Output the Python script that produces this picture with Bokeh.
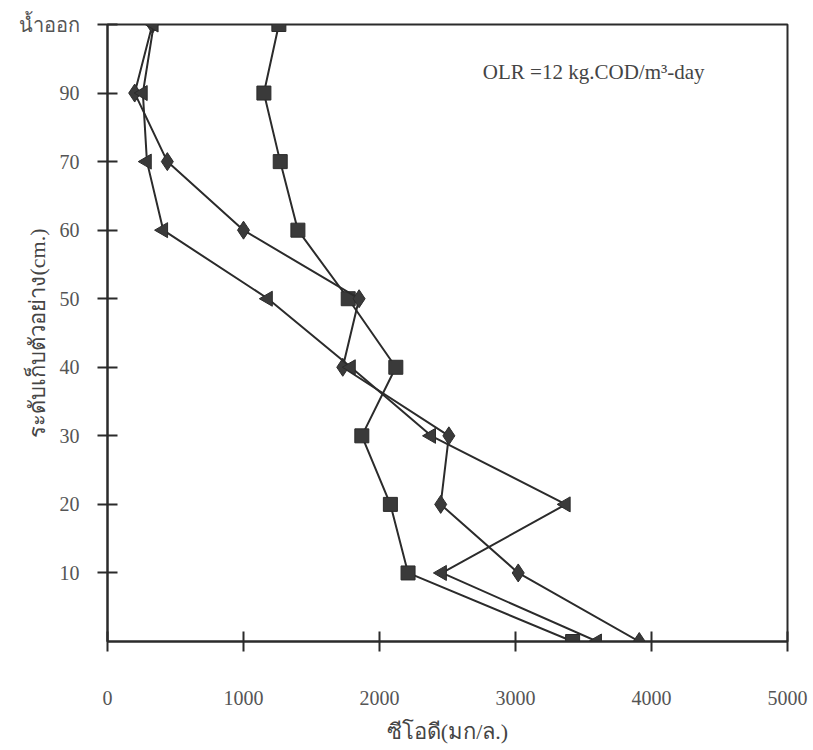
import math
from bokeh.plotting import figure
from bokeh.models import FixedTicker, Label, Range1d
from bokeh.embed import file_html
from bokeh.resources import INLINE

# sampling levels (positions 0..9) and their tick labels
levels = [0, 1, 2, 3, 4, 5, 6, 7, 8, 9]
level_labels = ["", "10", "20", "30", "40", "50", "60", "70", "90", "น้ำออก"]

# COD (mg/L) for each level, bottom to top
cod_square = [3420, 2210, 2080, 1870, 2120, 1770, 1400, 1270, 1150, 1260]
cod_diamond = [3910, 3020, 2450, 2510, 1730, 1850, 1000, 440, 200, 330]
cod_triangle = [3600, 2460, 3370, 2380, 1790, 1180, 410, 290, 260, 340]

x_ticks = [0, 1000, 2000, 3000, 4000, 5000]

SERIF = "Liberation Serif"
INK = "#2b2b2b"

p = figure(width=813, height=750, x_range=Range1d(0, 5000), y_range=Range1d(0, 9),
           output_backend="svg", toolbar_location=None,
           min_border_left=107, min_border_right=26, min_border_top=24, min_border_bottom=109)

p.grid.visible = False
p.outline_line_color = INK
p.outline_line_width = 2
p.background_fill_color = "white"
p.border_fill_color = "white"

# x axis
xa = p.xaxis[0]
xa.ticker = FixedTicker(ticks=x_ticks)
xa.axis_line_width = 2
xa.axis_line_color = INK
xa.major_tick_line_width = 2
xa.major_tick_line_color = INK
xa.major_tick_in = 10
xa.major_tick_out = 10
xa.minor_tick_line_color = None
xa.major_label_standoff = 39
xa.major_label_text_font = SERIF
xa.major_label_text_font_size = "20px"
xa.major_label_text_color = "#555555"
xa.axis_label = "ซีโอดี(มก/ล.)"
xa.axis_label_text_font = SERIF
xa.axis_label_text_font_size = "22px"
xa.axis_label_text_font_style = "normal"
xa.axis_label_text_color = "#444444"
xa.axis_label_standoff = 11

# y axis
ya = p.yaxis[0]
ya.ticker = FixedTicker(ticks=levels[1:])
ya.major_label_overrides = {lv: lab for lv, lab in zip(levels, level_labels)}
ya.axis_line_width = 2
ya.axis_line_color = INK
ya.major_tick_line_width = 2
ya.major_tick_line_color = INK
ya.major_tick_in = 10
ya.major_tick_out = 10
ya.minor_tick_line_color = None
ya.major_label_standoff = 18
ya.major_label_text_font = SERIF
ya.major_label_text_font_size = "20px"
ya.major_label_text_color = "#555555"
ya.axis_label = "ระดับเก็บตัวอย่าง(cm.)"
ya.axis_label_text_font = SERIF
ya.axis_label_text_font_size = "22px"
ya.axis_label_text_font_style = "normal"
ya.axis_label_text_color = "#444444"
ya.axis_label_standoff = -34

# series
p.line(cod_square, levels, line_color=INK, line_width=2)
p.scatter(cod_square, levels, marker="square", size=14, fill_color="#3a3a3a", line_color=INK)

p.line(cod_diamond, levels, line_color=INK, line_width=2)
p.scatter(cod_diamond, levels, marker="diamond", size=18, fill_color="#3a3a3a", line_color=INK)

p.line(cod_triangle, levels, line_color=INK, line_width=2)
p.scatter(cod_triangle, levels, marker="triangle", size=15, angle=math.pi / 2,
          fill_color="#3a3a3a", line_color=INK)

p.add_layout(Label(x=2760, y=8.3, text="OLR =12 kg.COD/m³-day",
                   text_font=SERIF, text_font_size="21px", text_color="#444444",
                   text_align="left", text_baseline="middle"))

open("out.html", "w").write(file_html(p, INLINE))
